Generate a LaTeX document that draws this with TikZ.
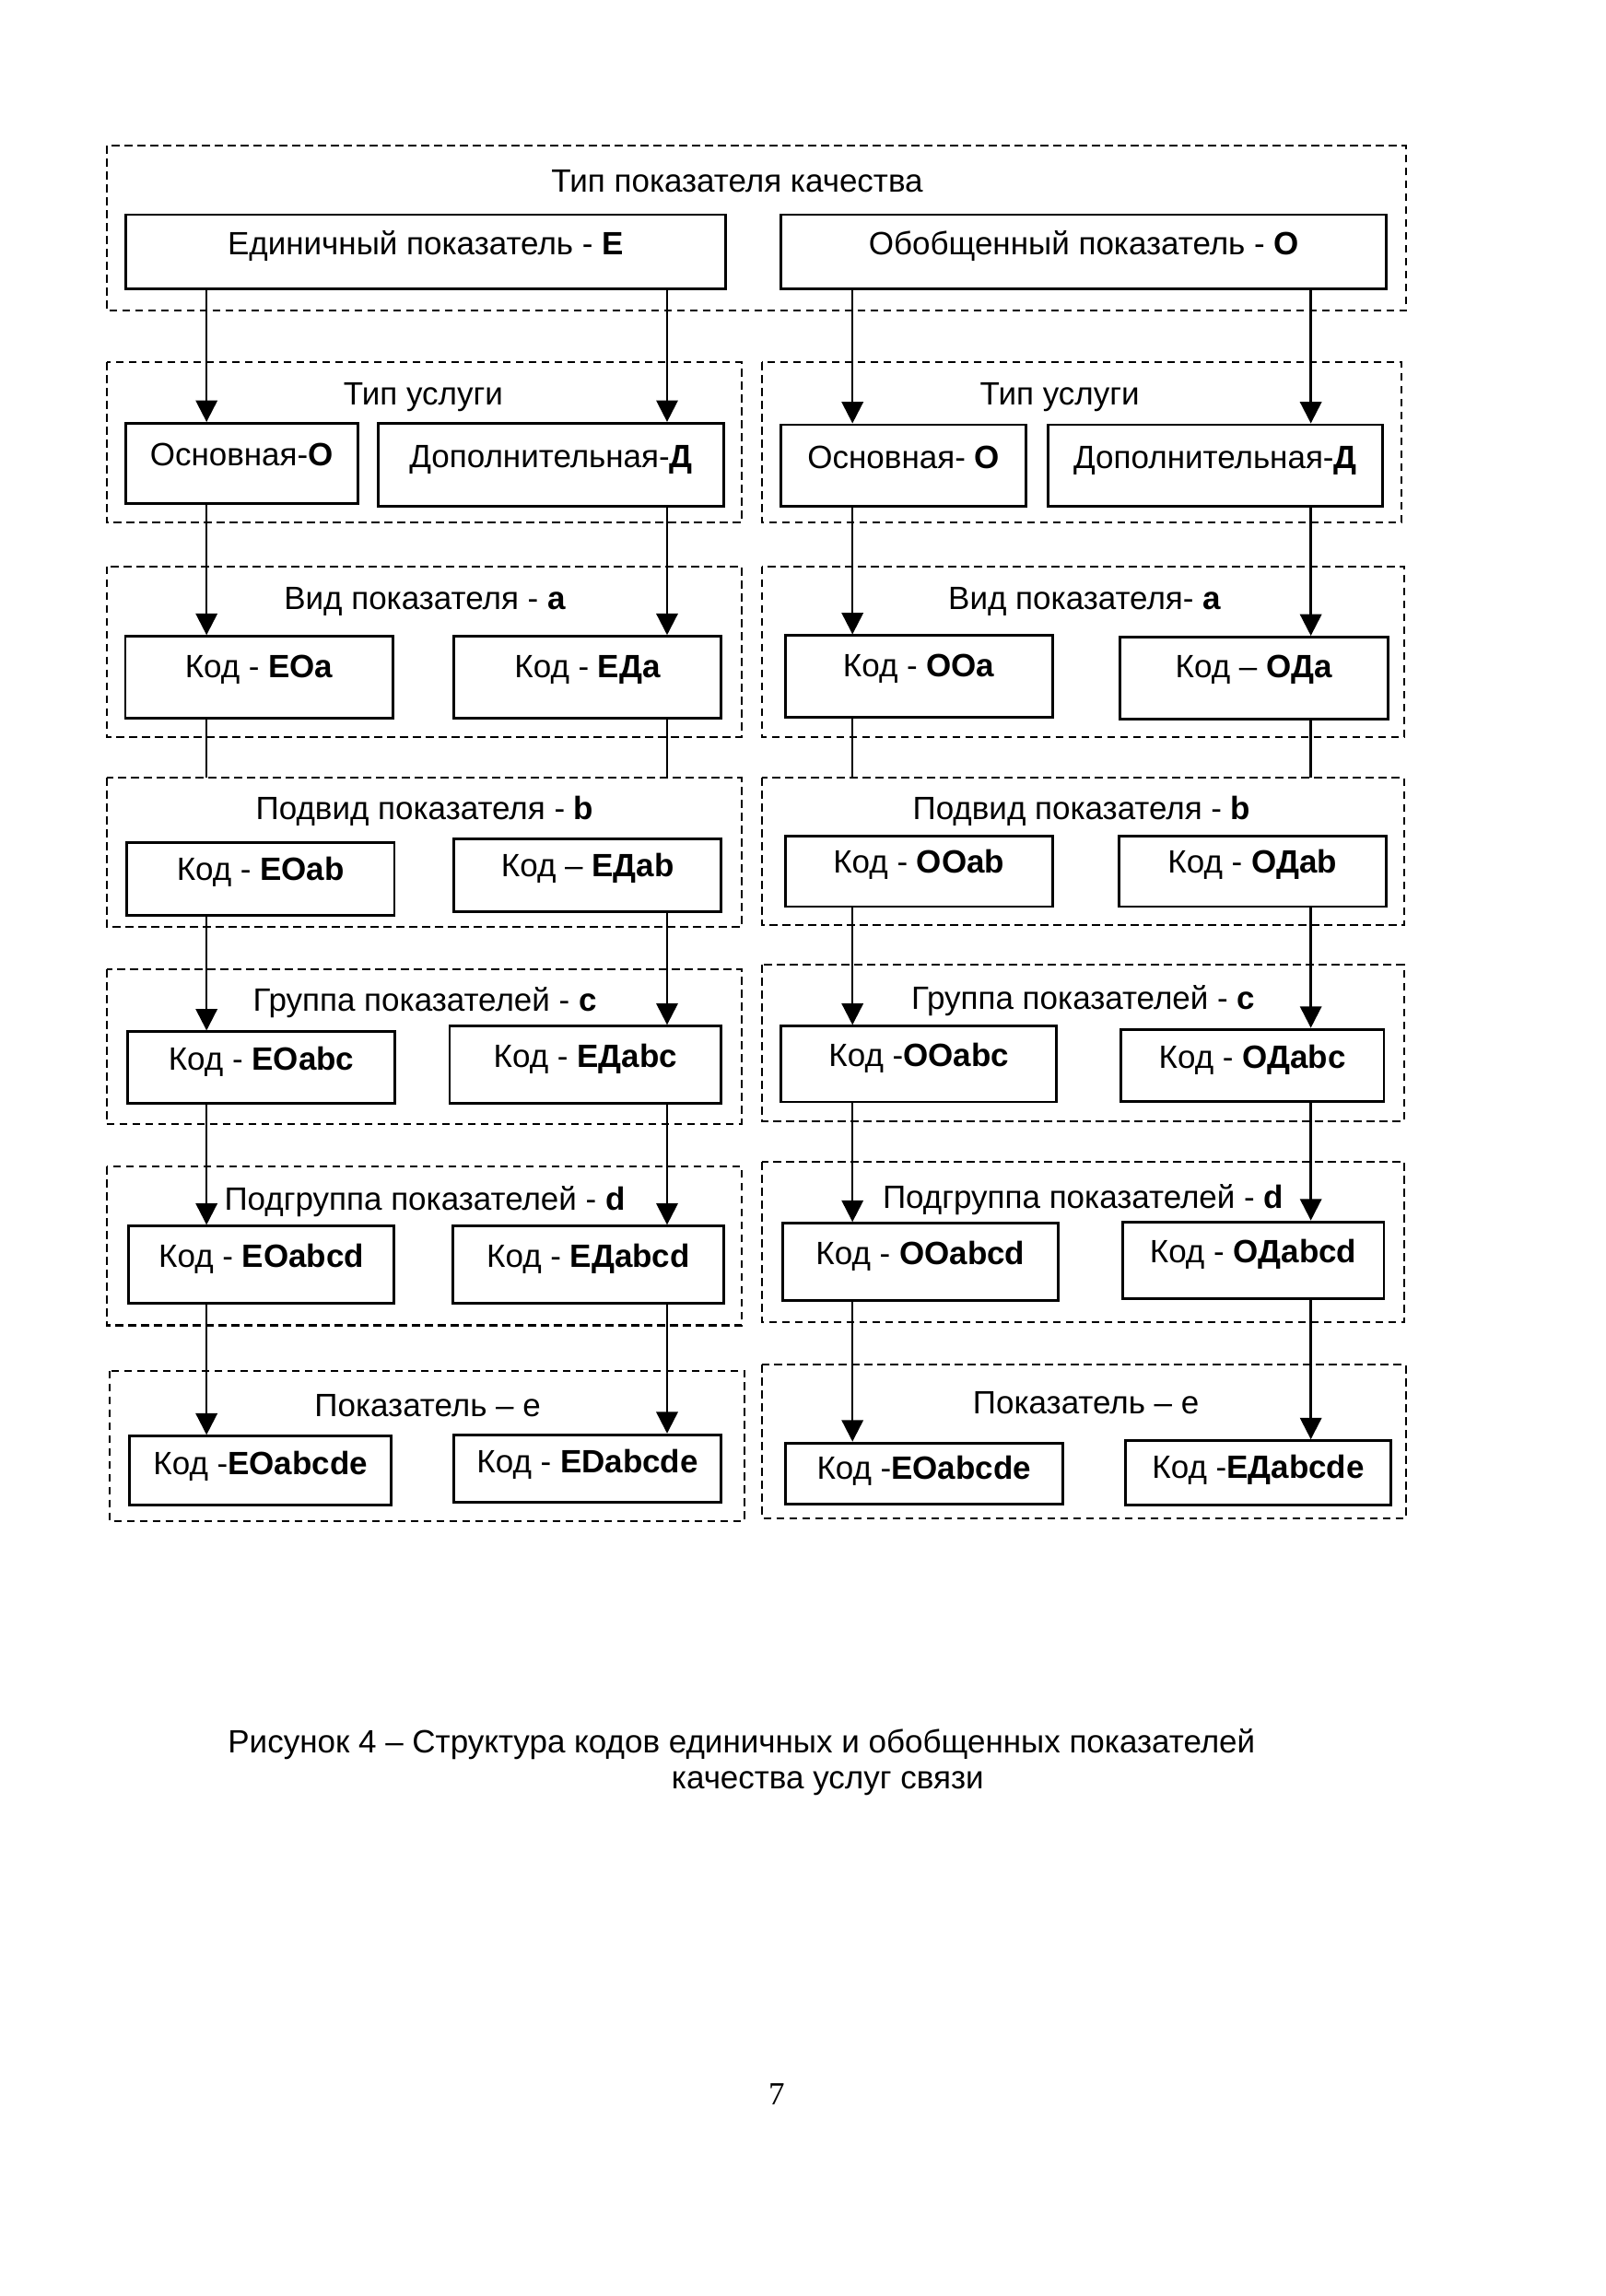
\documentclass[tikz,border=0pt]{standalone}
\usepackage{fontspec}
\setmainfont{Liberation Sans}
\newfontfamily\pagefont{Liberation Serif}
\usetikzlibrary{arrows.meta}

\begin{document}
\begin{tikzpicture}[x=0.19091mm, y=-0.19091mm,
    font=\fontsize{12}{14}\selectfont,
    box/.style={shape=rectangle, draw=black, line width=1pt, inner sep=0pt, text height=9pt, text depth=7pt},
    kod/.style={box, minimum width=35mm, minimum height=10mm},
    ttl/.style={yshift=-0.55mm},
    frame/.style={draw=black, line width=0.7pt, dash pattern=on 3pt off 1.8pt},
    arr/.style={line width=0.8pt, -{Triangle[length=8pt,width=8pt]}},
    link/.style={line width=0.8pt}]

    \fill[white] (0,0) rectangle (1100,1573);
    \useasboundingbox (0,0) rectangle (1100,1573);

    % columns of the connectors
    \coordinate (xa) at (141.5,0);
    \coordinate (xb) at (457,0);
    \coordinate (xc) at (584,0);
    \coordinate (xd) at (898,0);

    % type of indicator
    \draw[frame] (73,100) rectangle (963,213);
    \node[ttl] (tT) at (505,121) {Тип показателя качества};
    \node[box, minimum width=78.5mm, minimum height=9.7mm] (E) at (291.5,172.5) {Единичный показатель - \textbf{E}};
    \node[box, minimum width=79.2mm, minimum height=9.7mm] (O) at (742.5,172.5) {Обобщенный показатель - \textbf{O}};

    % type of service
    \draw[frame] (73,248) rectangle (508,358);
    \draw[frame] (522,248) rectangle (960,358);
    \node[ttl] (tUL) at (290,269) {Тип услуги};
    \node[ttl] (tUR) at (726,269) {Тип услуги};
    \node[box, minimum width=30.4mm, minimum height=10.5mm] (EO) at (165.5,317.5) {Основная-\textbf{O}};
    \node[box, minimum width=45.2mm, minimum height=10.9mm] (ED) at (377.5,318.5) {Дополнительная-\textbf{Д}};
    \node[box, minimum width=32.1mm, minimum height=10.7mm] (OO) at (619,319) {Основная- \textbf{O}};
    \node[box, minimum width=43.7mm, minimum height=10.7mm] (OD) at (832.5,319) {Дополнительная-\textbf{Д}};

    % kind
    \draw[frame] (73,388) rectangle (508,505);
    \draw[frame] (522,388) rectangle (962,505);
    \node[ttl] (tVL) at (291,409) {Вид показателя - \textbf{a}};
    \node[ttl] (tVR) at (743,409) {Вид показателя- \textbf{a}};
    \node[kod, minimum height=10.7mm, text depth=9pt] (EOa) at (177.5,464) {Код - \textbf{EOa}};
    \node[kod, minimum height=10.7mm, text depth=9pt] (EDa) at (402.5,464) {Код - \textbf{ЕДa}};
    \node[kod, minimum height=10.7mm, text depth=9pt] (OOa) at (629.5,463.5) {Код - \textbf{OOa}};
    \node[kod, minimum height=10.7mm, text depth=9pt] (ODa) at (859,464.5) {Код – \textbf{OДa}};
    \coordinate (top4L) at (290,533);
    \coordinate (top4R) at (742,533);

    % subkind
    \draw[frame] (73,533) rectangle (508,635);
    \draw[frame] (522,533) rectangle (962,634);
    \node[ttl] (tPL) at (291,553) {Подвид показателя - \textbf{b}};
    \node[ttl] (tPR) at (741,553) {Подвид показателя - \textbf{b}};
    \node[kod, minimum height=9.5mm, text depth=8pt] (EOab) at (178.5,602) {Код - \textbf{EOab}};
    \node[kod, minimum height=9.5mm, text depth=8pt] (EDab) at (402.5,599.5) {Код – \textbf{ЕДab}};
    \node[kod, minimum height=9.2mm, text depth=8pt] (OOab) at (629.5,597) {Код - \textbf{OOab}};
    \node[kod, minimum height=9.2mm, text depth=8pt] (ODab) at (858,597) {Код - \textbf{OДab}};

    % group
    \draw[frame] (73,664) rectangle (508,770);
    \draw[frame] (522,661) rectangle (962,768);
    \node[ttl] (tGL) at (291,684) {Группа показателей - \textbf{c}};
    \node[ttl] (tGR) at (742,683) {Группа показателей - \textbf{c}};
    \node[kod, minimum height=9.4mm] (EOabc) at (179,731.5) {Код - \textbf{EOabc}};
    \node[kod, minimum width=35.5mm, minimum height=10.1mm] (EDabc) at (401,729.5) {Код - \textbf{ЕДabc}};
    \node[kod, minimum width=36mm, minimum height=9.9mm] (OOabc) at (629.5,729) {Код -\textbf{OOabc}};
    \node[kod, minimum width=34.4mm, minimum height=9.5mm] (ODabc) at (858,730) {Код - \textbf{OДabc}};

    % subgroup
    \draw[frame] (73,799) rectangle (508,908);
    \draw[frame] (522,796) rectangle (962,906);
    \node[ttl] (tSL) at (291,820) {Подгруппа показателей - \textbf{d}};
    \node[ttl] (tSR) at (742,819) {Подгруппа показателей - \textbf{d}};
    \node[kod, minimum width=34.7mm, minimum height=10.1mm] (EOabcd) at (179,866.5) {Код - \textbf{EOabcd}};
    \node[kod, minimum width=35.5mm, minimum height=10.1mm] (EDabcd) at (403,866.5) {Код - \textbf{ЕДabcd}};
    \node[kod, minimum width=36mm, minimum height=10.1mm] (OOabcd) at (630.5,864.5) {Код - \textbf{OOabcd}};
    \node[kod, minimum width=34.2mm, minimum height=10.1mm] (ODabcd) at (858.5,863.5) {Код - \textbf{OДabcd}};

    % indicator
    \draw[frame] (75,939) rectangle (510,1042);
    \draw[frame] (522,935) rectangle (963,1040);
    \node[ttl] (tIL) at (293,960) {Показатель – е};
    \node[ttl] (tIR) at (744,958) {Показатель – е};
    \node[kod, minimum width=34.2mm, minimum height=9mm, text depth=6pt] (EOe) at (178.5,1007.5) {Код -\textbf{EOabcde}};
    \node[kod, minimum width=35mm, minimum height=8.8mm, text depth=6pt] (EDe) at (402.5,1006) {Код - \textbf{EDabcde}};
    \node[kod, minimum width=36.3mm, minimum height=8mm, text depth=5pt] (OOe) at (633,1009.5) {Код -\textbf{EOabcde}};
    \node[kod, minimum width=34.7mm, minimum height=8.4mm, text depth=5pt] (ODe) at (862,1009) {Код -\textbf{ЕДabcde}};

    \begin{scope}

        \draw[arr] (E.south -| xa) -- (EO.north -| xa);
        \draw[arr] (E.south -| xb) -- (ED.north -| xb);
        \draw[arr] (O.south -| xc) -- (OO.north -| xc);
        \draw[arr] (O.south -| xd) -- (OD.north -| xd);

        \draw[arr] (EO.south -| xa) -- (EOa.north -| xa);
        \draw[arr] (ED.south -| xb) -- (EDa.north -| xb);
        \draw[arr] (OO.south -| xc) -- (OOa.north -| xc);
        \draw[arr] (OD.south -| xd) -- (ODa.north -| xd);

        \draw[link] (EOa.south -| xa) -- (top4L -| xa);
        \draw[link] (EDa.south -| xb) -- (top4L -| xb);
        \draw[link] (OOa.south -| xc) -- (top4R -| xc);
        \draw[link] (ODa.south -| xd) -- (top4R -| xd);

        \draw[arr] (EOab.south -| xa) -- (EOabc.north -| xa);
        \draw[arr] (EDab.south -| xb) -- (EDabc.north -| xb);
        \draw[arr] (OOab.south -| xc) -- (OOabc.north -| xc);
        \draw[arr] (ODab.south -| xd) -- (ODabc.north -| xd);

        \draw[arr] (EOabc.south -| xa) -- (EOabcd.north -| xa);
        \draw[arr] (EDabc.south -| xb) -- (EDabcd.north -| xb);
        \draw[arr] (OOabc.south -| xc) -- (OOabcd.north -| xc);
        \draw[arr] (ODabc.south -| xd) -- (ODabcd.north -| xd);

        \draw[arr] (EOabcd.south -| xa) -- (EOe.north -| xa);
        \draw[arr] (EDabcd.south -| xb) -- (EDe.north -| xb);
        \draw[arr] (OOabcd.south -| xc) -- (OOe.north -| xc);
        \draw[arr] (ODabcd.south -| xd) -- (ODe.north -| xd);

    \end{scope}

    % caption and page number
    \node (cap1) at (508,1195) {Рисунок 4 – Структура кодов единичных и обобщенных показателей};
    \node (cap2) at (567,1222) {качества услуг связи};
    \node[font=\pagefont\fontsize{12}{14}\selectfont] (pg) at (532,1435) {7};

\end{tikzpicture}
\end{document}
